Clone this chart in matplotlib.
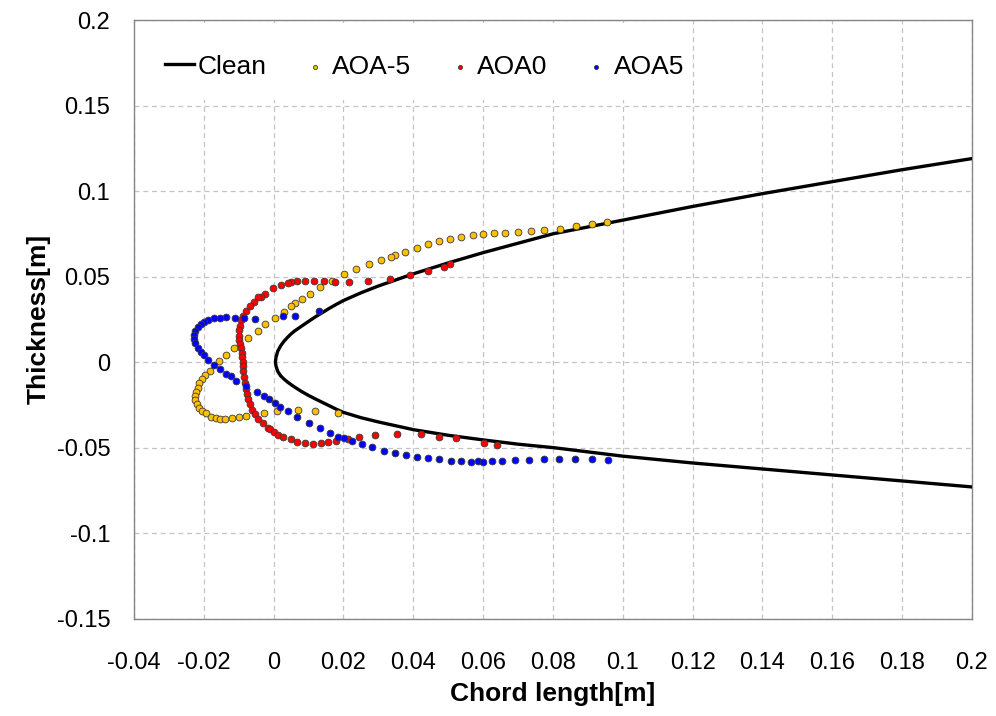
import matplotlib
matplotlib.use("Agg")
import matplotlib.pyplot as plt
from matplotlib.patches import Rectangle

plt.rcParams['font.family'] = ['Liberation Sans', 'DejaVu Sans']

# clean airfoil leading edge (upper and lower surface)
clean_up_x = [0.0005, 0.0007, 0.0012, 0.002, 0.003, 0.004, 0.005, 0.006, 0.008, 0.010, 0.012, 0.014,
              0.016, 0.018, 0.02, 0.025, 0.03, 0.04, 0.05, 0.06, 0.07, 0.08, 0.09, 0.1, 0.12, 0.14,
              0.16, 0.18, 0.2]
clean_up_y = [0.0, 0.003, 0.0065, 0.0095, 0.0123, 0.0145, 0.0165, 0.0182, 0.021, 0.0238, 0.0265, 0.029,
              0.0315, 0.0338, 0.036, 0.0405, 0.0445, 0.0516, 0.058, 0.064, 0.0695, 0.075, 0.079, 0.083,
              0.091, 0.0985, 0.1055, 0.1125, 0.119]
clean_lo_x = [0.0005, 0.0007, 0.0012, 0.002, 0.003, 0.004, 0.005, 0.006, 0.008, 0.010, 0.012, 0.014,
              0.016, 0.018, 0.02, 0.025, 0.03, 0.04, 0.05, 0.06, 0.07, 0.08, 0.09, 0.1, 0.12, 0.14,
              0.16, 0.18, 0.2]
clean_lo_y = [0.0, -0.0025, -0.0055, -0.008, -0.0100, -0.0117, -0.0132, -0.0146, -0.0172, -0.0195, -0.0216,
              -0.0236, -0.0256, -0.0276, -0.0294, -0.0325, -0.035, -0.0395, -0.0428, -0.0455, -0.048, -0.050,
              -0.0525, -0.055, -0.059, -0.0625, -0.066, -0.0695, -0.073]

# AOA-5 ice shape
aoa_m5_x = [0.0956, 0.0911, 0.0866, 0.082, 0.0775, 0.0737, 0.0701, 0.0663, 0.0631, 0.0599, 0.0571, 0.0537,
            0.0506, 0.0475, 0.0442, 0.0411, 0.0375, 0.0349, 0.0335, 0.0307, 0.0273, 0.0237, 0.0201, 0.0168,
            0.0134, 0.0104, 0.008, 0.0061, 0.0049, 0.0031, 0.0004, -0.0025, -0.0046, -0.0072, -0.0113, -0.0137,
            -0.0156, -0.0182, -0.0196, -0.0206, -0.0213, -0.0218, -0.0223, -0.0225, -0.0225, -0.022, -0.0213,
            -0.0206, -0.0194, -0.0179, -0.0166, -0.0153, -0.0139, -0.0118, -0.0099, -0.0079, -0.0027, 0.0011,
            0.0071, 0.0118, 0.0183]
aoa_m5_y = [0.0817, 0.0805, 0.0795, 0.0781, 0.0771, 0.0767, 0.0762, 0.0756, 0.0756, 0.0748, 0.0742, 0.0732,
            0.0719, 0.0707, 0.0688, 0.067, 0.0645, 0.0629, 0.0615, 0.0596, 0.0571, 0.0542, 0.0513, 0.0473,
            0.044, 0.0401, 0.0366, 0.0343, 0.0327, 0.0294, 0.0258, 0.022, 0.0181, 0.0143, 0.008, 0.0041,
            0.0006, -0.005, -0.0076, -0.0101, -0.0124, -0.015, -0.0174, -0.0199, -0.0222, -0.0245, -0.0267,
            -0.0285, -0.03, -0.032, -0.0329, -0.0333, -0.0335, -0.0329, -0.0323, -0.0316, -0.03, -0.0286,
            -0.0281, -0.0286, -0.03]

# AOA0 ice shape
aoa_0_x = [0.0506, 0.0488, 0.0442, 0.039, 0.0332, 0.0269, 0.0216, 0.0177, 0.0145, 0.0116, 0.0091, 0.0068,
           0.0051, 0.0042, 0.0021, -0.0003, -0.0025, -0.0037, -0.0044, -0.0055, -0.0068, -0.0079, -0.0087,
           -0.0093, -0.0097, -0.0099, -0.0100, -0.0098, -0.0095, -0.0093, -0.0091, -0.0091, -0.0089, -0.0089,
           -0.0087, -0.0085, -0.0082, -0.008, -0.0077, -0.0074, -0.0069, -0.0063, -0.0053, -0.0044, -0.0031,
           -0.0017, -0.0011, 0.0001, 0.0013, 0.0028, 0.0049, 0.0068, 0.0089, 0.0113, 0.0135, 0.0156, 0.018,
           0.0213, 0.0245, 0.0289, 0.0353, 0.0421, 0.0475, 0.0521, 0.0602, 0.064]
aoa_0_y = [0.0573, 0.0557, 0.0534, 0.0508, 0.0483, 0.0473, 0.0466, 0.0466, 0.0473, 0.0473, 0.0473, 0.0473,
           0.0466, 0.0464, 0.045, 0.0431, 0.0401, 0.0382, 0.0378, 0.0352, 0.0327, 0.0296, 0.027,
           0.0245, 0.0211, 0.0185, 0.0155, 0.0128, 0.0103, 0.008, 0.0054, 0.0027, 0.0002, -0.0023,
           -0.0053, -0.0088, -0.0124, -0.0155, -0.0187, -0.0218, -0.0247, -0.0281, -0.0306, -0.0335, -0.0358,
           -0.0384, -0.0393, -0.0411, -0.0427, -0.0437, -0.0452, -0.0466, -0.0472, -0.0479, -0.0475, -0.0469, -0.046,
           -0.0452, -0.0437, -0.0428, -0.0423, -0.0423, -0.0437, -0.0446, -0.0472, -0.0485]

# AOA5 ice shape
aoa_5_x = [0.0131, 0.0061, 0.0028, -0.0053, -0.0084, -0.0112, -0.0136, -0.0155, -0.0172, -0.0187, -0.0198,
           -0.0209, -0.0217, -0.0225, -0.0229, -0.0228, -0.0225, -0.0218, -0.0209, -0.0199, -0.0187, -0.0172,
           -0.0155, -0.0137, -0.0122, -0.0109, -0.0079, -0.0047, -0.0029, -0.0013, 0.0004, 0.0018, 0.004,
           0.0067, 0.0101, 0.0132, 0.0161, 0.0185, 0.0202, 0.0223, 0.0253, 0.0283, 0.0315, 0.0347, 0.0378,
           0.0411, 0.0442, 0.0473, 0.0507, 0.0537, 0.0564, 0.0585, 0.0601, 0.0625, 0.0654, 0.0691, 0.0731,
           0.0773, 0.0818, 0.0864, 0.0913, 0.0959]
aoa_5_y = [0.030, 0.0269, 0.0269, 0.025, 0.0255, 0.0255, 0.0261, 0.0259, 0.0255, 0.0245, 0.0236,
           0.0222, 0.0206, 0.0183, 0.0158, 0.0133, 0.0109, 0.0084, 0.006, 0.0041, 0.0012, -0.0018,
           -0.0043, -0.007, -0.0084, -0.0109, -0.0139, -0.0177, -0.0199, -0.0218, -0.0241, -0.0261, -0.0286,
           -0.0323, -0.0355, -0.0384, -0.0417, -0.0437, -0.0446, -0.046, -0.0479, -0.0499, -0.0518, -0.053, -0.0544,
           -0.0553, -0.0559, -0.0569, -0.0577, -0.0579, -0.0583, -0.0579, -0.0583, -0.0579, -0.0579, -0.0573, -0.0573,
           -0.0567, -0.0567, -0.0567, -0.0567, -0.0573]

x_ticks = [-0.04, -0.02, 0, 0.02, 0.04, 0.06, 0.08, 0.1, 0.12, 0.14, 0.16, 0.18, 0.2]
x_tick_labels = ['-0.04', '-0.02', '0', '0.02', '0.04', '0.06', '0.08', '0.1', '0.12', '0.14', '0.16', '0.18', '0.2']
y_ticks = [-0.15, -0.1, -0.05, 0, 0.05, 0.1, 0.15, 0.2]
y_tick_labels = ['-0.15', '-0.1', '-0.05', '0', '0.05', '0.1', '0.15', '0.2']

fig = plt.figure(figsize=(9.96, 7.16), dpi=100)
ax = fig.add_axes([0.1345, 0.136, 0.8414, 0.836])

clean_x = clean_up_x[::-1] + clean_lo_x[1:]
clean_y = clean_up_y[::-1] + clean_lo_y[1:]
ax.plot(clean_x, clean_y, color='black', lw=2.4, label='Clean', zorder=3,
        solid_joinstyle='round')

dot = dict(s=24, linewidths=0.6, edgecolors='#3a3a3a', zorder=4)
ax.scatter(aoa_m5_x, aoa_m5_y, color='#FFC000', label='AOA-5', **dot)
ax.scatter(aoa_0_x, aoa_0_y, color='#FF0000', label='AOA0', **dot)
ax.scatter(aoa_5_x, aoa_5_y, color='#0000FF', label='AOA5', **dot)

ax.set_xlim(-0.04, 0.2)
ax.set_ylim(-0.15, 0.2)
ax.set_xticks(x_ticks)
ax.set_xticklabels(x_tick_labels)
ax.set_yticks(y_ticks)
ax.set_yticklabels(y_tick_labels)
ax.tick_params(axis='both', length=0, labelsize=17)
ax.tick_params(axis='x', pad=24)
ax.tick_params(axis='y', pad=17)

ax.grid(True, color='#c4c4c4', linestyle=(0, (4, 3)), linewidth=0.9)
ax.set_axisbelow(True)
for sp in ax.spines.values():
    sp.set_color('#868686')
    sp.set_linewidth(1.0)

ax.set_xlabel('Chord length[m]', fontsize=19, fontweight='bold', labelpad=6)
ax.set_ylabel('Thickness[m]', fontsize=19, fontweight='bold', labelpad=4)

# white legend area
ax.add_patch(Rectangle((0.001, 0.866), 0.662, 0.129, transform=ax.transAxes,
                       facecolor='white', edgecolor='none', zorder=2))
leg = ax.legend(loc='upper left', bbox_to_anchor=(0.025, 0.96), ncol=4, frameon=False,
                fontsize=19, handlelength=1.1, handletextpad=0.1, columnspacing=1.3,
                markerscale=0.6, borderaxespad=0)
leg.set_zorder(5)

fig.savefig('out.png', dpi=100)
